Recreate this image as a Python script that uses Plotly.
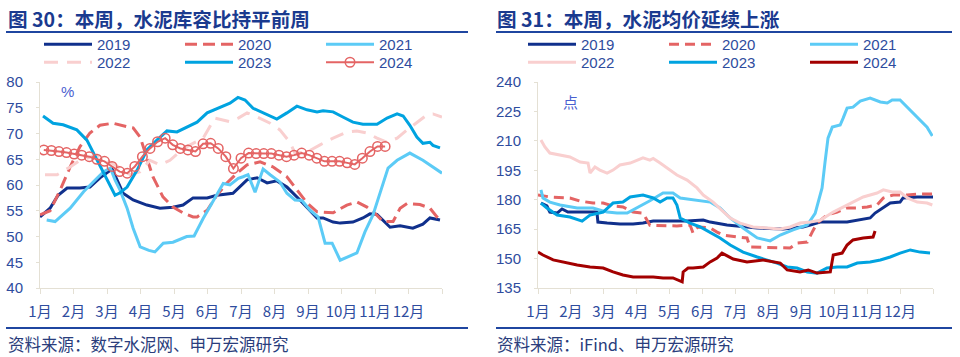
import plotly.graph_objects as go

W, H = 960, 357

# ---------------- data ----------------
MONTH_POS = list(range(13))
MONTH_LABELS = ["1月", "2月", "3月", "4月", "5月", "6月", "7月", "8月", "9月", "10月", "11月", "12月", ""]

# Left chart: cement inventory ratio (%), x = position within the year (months)
INV_2019_X = [0.00, 0.30, 0.54, 0.81, 1.19, 1.49, 1.79, 2.00, 2.15, 2.30, 2.48, 2.78, 3.19, 3.58, 3.97, 4.27, 4.57, 4.99,
              5.28, 5.76, 6.18, 6.48, 6.78, 7.07, 7.37, 7.76, 8.06, 8.27, 8.45, 8.75, 8.96, 9.34, 9.64, 9.85, 10.06,
              10.24, 10.45, 10.75, 11.13, 11.43, 11.64, 11.94]
INV_2019_Y = [53.8, 55.5, 58.0, 59.4, 59.4, 59.6, 61.4, 62.3, 63.1, 61.0, 58.4, 57.1, 56.1, 55.5, 55.7, 56.1, 57.5, 57.5,
              58.0, 58.4, 61.0, 61.4, 60.4, 60.8, 59.6, 57.1, 55.1, 53.6, 53.6, 52.8, 52.6, 52.8, 53.6, 54.4, 54.3,
              53.2, 51.8, 52.1, 51.6, 52.4, 53.6, 53.2]

INV_2020_X = [0.00, 0.30, 0.60, 0.90, 1.19, 1.49, 1.79, 2.18, 2.60, 2.78, 2.99, 3.19, 3.37, 3.67, 3.97, 4.27, 4.57, 4.69,
              4.99, 5.28, 5.58, 5.88, 6.18, 6.57, 6.96, 7.37, 7.76, 7.97, 8.27, 8.75, 9.16, 9.46, 9.76, 10.00, 10.24,
              10.54, 10.75, 10.96, 11.34, 11.64, 11.85, 12.00]
INV_2020_Y = [54.2, 55.0, 59.0, 63.5, 67.4, 70.1, 71.6, 72.0, 71.3, 71.1, 69.3, 65.4, 61.6, 57.7, 55.7, 54.6, 53.8, 53.8,
              55.1, 58.0, 60.4, 62.3, 63.9, 64.5, 63.5, 61.6, 58.4, 56.5, 54.8, 54.6, 56.1, 56.7, 55.7, 54.5, 52.9,
              52.9, 55.5, 56.4, 56.2, 55.5, 53.8, 52.9]

INV_2021_X = [0.20, 0.45, 0.90, 1.30, 1.70, 1.90, 2.10, 2.24, 2.39, 2.60, 2.78, 2.99, 3.25, 3.43, 3.68, 3.97, 4.38, 4.60,
              4.87, 5.17, 5.47, 5.67, 5.92, 6.06, 6.21, 6.42, 6.66, 6.87, 7.16, 7.37, 7.61, 7.82, 8.06, 8.30, 8.51,
              8.72, 8.96, 9.46, 9.70, 9.94, 10.24, 10.39, 10.66, 11.04, 11.43, 11.73, 12.00]
INV_2021_Y = [53.2, 52.9, 55.5, 58.7, 61.3, 62.6, 63.3, 61.0, 59.0, 55.5, 51.6, 48.0, 47.3, 47.0, 48.7, 48.9, 50.0, 50.1,
              53.5, 56.8, 60.3, 60.0, 61.3, 61.6, 62.0, 58.6, 63.1, 62.0, 60.6, 58.4, 57.1, 57.0, 55.1, 53.8, 48.7,
              48.7, 45.4, 46.8, 50.9, 54.2, 60.0, 63.3, 64.8, 66.2, 64.8, 63.5, 62.3]

INV_2022_X = [0.15, 0.51, 0.90, 1.19, 1.70, 2.00, 2.39, 2.69, 2.99, 3.28, 3.58, 3.88, 4.28, 4.87, 5.22, 5.67, 5.92, 6.18,
              6.48, 6.87, 7.16, 7.46, 7.61, 7.97, 8.36, 8.75, 9.16, 9.46, 9.76, 10.06, 10.36, 10.66, 10.96, 11.25,
              11.55, 11.73, 12.00]
INV_2022_Y = [62.0, 62.0, 63.5, 64.8, 65.8, 64.8, 63.3, 62.0, 62.6, 64.8, 63.9, 64.8, 67.1, 69.1, 73.0, 72.3, 73.0, 74.0,
              73.2, 72.0, 70.7, 68.3, 66.2, 66.4, 67.8, 69.1, 70.3, 70.5, 70.1, 69.1, 68.3, 69.1, 70.7, 72.2,
              73.6, 73.8, 73.2]

INV_2023_X = [0.09, 0.39, 0.69, 1.10, 1.40, 1.70, 2.00, 2.24, 2.39, 2.60, 2.90, 3.19, 3.49, 3.79, 4.09, 4.39, 4.69, 4.99,
              5.37, 5.67, 5.91, 6.12, 6.36, 6.78, 7.07, 7.37, 7.67, 7.97, 8.27, 8.45, 8.75, 9.04, 9.34, 9.64, 10.06,
              10.36, 10.66, 10.84, 11.04, 11.25, 11.43, 11.64, 11.73, 11.94]
INV_2023_Y = [73.4, 72.0, 71.7, 70.7, 68.7, 64.9, 61.0, 58.0, 58.5, 59.6, 62.9, 66.8, 68.7, 70.5, 70.3, 71.3, 72.2, 74.0,
              75.1, 75.9, 77.0, 76.5, 74.9, 73.6, 72.8, 74.0, 75.3, 74.6, 74.2, 74.4, 74.2, 73.2, 72.2, 71.8, 71.8,
              73.0, 73.8, 73.4, 71.6, 69.3, 68.1, 68.3, 67.7, 67.2]

INV_2024_WEEK = list(range(1, 47))
INV_2024_Y = [66.8, 66.7, 66.5, 66.3, 66.0, 65.8, 65.5, 65.0, 64.6, 63.6, 62.6, 62.3, 63.6, 65.5, 67.1, 68.4, 69.1, 67.8,
              67.1, 66.8, 66.5, 68.0, 68.1, 67.1, 65.5, 63.2, 65.2, 66.2, 66.1, 66.1, 66.1, 65.8, 65.5, 65.8, 66.2,
              65.8, 65.2, 64.6, 64.6, 64.6, 64.3, 64.0, 65.2, 66.5, 67.5, 67.5]

# Right chart: cement price index (points)
PRC_2019_X = [0.09, 0.27, 0.36, 0.58, 0.73, 0.91, 1.79, 1.82, 2.10, 2.49, 2.89, 3.19, 3.50, 4.53, 5.02, 5.23, 5.74,
              6.23, 6.66, 7.45, 8.05, 8.27, 8.57, 9.39, 9.70, 10.09, 10.24, 10.49, 10.70, 11.00, 11.09, 11.52, 12.00]
PRC_2019_Y = [178.3, 176.8, 173.7, 173.2, 175.3, 173.7, 173.7, 168.6, 168.1, 167.6, 167.6, 168.1, 169.1, 169.1, 169.6,
              168.6, 167.1, 166.1, 165.6, 165.1, 166.1, 167.1, 168.6, 168.6, 169.6, 170.7, 173.2, 175.8, 178.3, 178.8,
              180.9, 181.4, 181.4]

PRC_2020_X = [0.00, 0.36, 0.97, 1.28, 1.67, 1.98, 2.28, 2.58, 2.89, 3.19, 3.40, 4.22, 4.62, 4.71, 4.86, 5.23, 5.44,
              5.62, 6.05, 6.35, 6.44, 7.26, 7.66, 7.87, 8.18, 8.33, 8.48, 8.78, 9.09, 9.39, 9.70, 10.00, 10.30, 10.49,
              10.79, 11.22, 11.52, 11.98]
PRC_2020_Y = [182.4, 181.4, 180.9, 179.3, 178.3, 178.3, 176.8, 176.3, 173.7, 173.2, 167.0, 166.6, 167.1, 163.0, 166.1,
              165.6, 163.5, 162.0, 161.0, 160.5, 155.9, 155.4, 155.4, 157.9, 158.4, 163.5, 168.1, 172.2, 173.7, 175.8,
              175.8, 176.3, 177.3, 180.9, 182.4, 182.4, 182.9, 182.9]

PRC_2021_X = [0.09, 0.15, 0.36, 0.67, 1.19, 1.67, 2.10, 2.40, 2.71, 3.01, 3.40, 3.80, 4.10, 4.32, 4.83, 5.23, 5.53,
              5.84, 6.23, 6.66, 7.05, 7.36, 7.75, 8.18, 8.42, 8.63, 8.72, 8.81, 8.94, 9.18, 9.27, 9.39, 9.57, 9.79,
              10.09, 10.40, 10.61, 10.76, 11.00, 11.22, 11.40, 11.61, 11.82, 11.98]
PRC_2021_Y = [185.0, 180.9, 178.8, 177.3, 175.8, 175.8, 173.7, 173.2, 173.2, 175.8, 179.5, 183.4, 183.4, 180.9, 179.8,
              178.8, 175.8, 170.7, 165.6, 160.5, 159.0, 162.0, 164.6, 167.1, 173.0, 186.0, 199.2, 211.4, 217.0, 218.1,
              221.6, 226.7, 227.2, 230.3, 231.8, 229.8, 229.3, 230.8, 230.8, 227.2, 224.2, 220.6, 217.0, 212.5]

PRC_2022_X = [0.09, 0.21, 0.36, 0.67, 0.97, 1.28, 1.52, 1.58, 1.73, 1.88, 2.10, 2.28, 2.49, 2.80, 3.01, 3.19, 3.40,
              3.50, 3.71, 3.92, 4.22, 4.53, 4.83, 5.02, 5.32, 5.53, 5.84, 6.14, 6.53, 6.96, 7.36, 7.66, 7.96, 8.27,
              8.57, 8.97, 9.27, 9.57, 9.88, 10.30, 10.49, 10.76, 11.00, 11.22, 11.52, 11.82, 11.98]
PRC_2022_Y = [210.4, 206.9, 203.8, 202.8, 201.8, 199.2, 198.7, 193.6, 196.7, 195.1, 193.6, 195.1, 197.7, 198.7, 200.2,
              201.3, 200.2, 201.0, 198.7, 196.2, 192.6, 190.0, 186.0, 182.4, 178.8, 175.5, 170.7, 168.1, 166.1, 165.6,
              165.1, 166.1, 168.1, 168.6, 169.5, 173.7, 176.3, 178.8, 181.4, 183.4, 185.0, 183.9, 183.9, 180.9, 178.8,
              178.3, 177.3]

PRC_2023_X = [0.09, 0.27, 0.58, 0.97, 1.34, 1.58, 1.98, 2.28, 2.58, 2.80, 3.19, 3.50, 3.71, 3.92, 4.10, 4.22, 4.32,
              4.62, 4.93, 5.23, 5.53, 5.84, 6.23, 6.66, 6.96, 7.26, 7.57, 7.87, 8.18, 8.48, 8.78, 9.09, 9.39, 9.70,
              10.09, 10.40, 10.70, 11.00, 11.31, 11.61, 11.91]
PRC_2023_Y = [178.3, 175.8, 172.2, 171.2, 169.1, 172.2, 173.7, 178.3, 178.8, 181.4, 182.4, 180.9, 178.8, 180.9, 180.9,
              177.3, 170.7, 168.1, 166.1, 163.5, 160.5, 156.9, 153.3, 150.8, 149.3, 147.7, 145.7, 145.2, 143.2, 142.6,
              145.2, 145.7, 145.7, 147.7, 148.3, 149.3, 150.8, 152.8, 154.4, 153.3, 152.8]

PRC_2024_X = [0.00, 0.15, 0.46, 0.88, 1.19, 1.58, 1.98, 2.28, 2.58, 2.89, 3.50, 3.80, 4.10, 4.38, 4.41, 4.56, 4.71,
              5.02, 5.23, 5.44, 5.59, 5.93, 6.35, 6.84, 7.36, 7.57, 7.96, 8.21, 8.48, 8.88, 8.97, 9.24, 9.39, 9.57,
              9.88, 10.18, 10.24]
PRC_2024_Y = [153.3, 151.8, 149.3, 147.7, 146.7, 145.7, 145.2, 143.2, 141.6, 140.6, 140.6, 140.1, 140.1, 138.1, 143.2,
              145.2, 145.2, 145.7, 148.3, 150.3, 152.8, 149.8, 148.3, 149.3, 147.7, 144.2, 143.2, 144.2, 142.6, 143.2,
              151.8, 152.8, 156.9, 159.5, 160.5, 161.0, 164.0]

# ---------------- styling ----------------
FONT = "Liberation Sans, Arial, Noto Sans CJK SC, sans-serif"
CJK = "Noto Sans CJK SC, Liberation Sans, sans-serif"
TXT = "#2E4C9E"
TITLE_C = "#1A3A8F"
AXIS_C = "#E4E0D4"
NAVY = "#10308C"
RED = "#E46464"
LBLUE = "#5CCBF6"
PINK = "#F9CFCF"
MBLUE = "#00A3E0"
DRED = "#A30000"


def px(x):
    return x / W


def py(y):
    return 1 - y / H


fig = go.Figure()

week_to_month = [(w - 0.5) * 12 / 53 for w in INV_2024_WEEK]

left_series = [
    ("2019", INV_2019_X, INV_2019_Y, dict(color=NAVY, width=3), "legend"),
    ("2020", INV_2020_X, INV_2020_Y, dict(color=RED, width=3, dash="12px,6px"), "legend"),
    ("2021", INV_2021_X, INV_2021_Y, dict(color=LBLUE, width=3), "legend"),
    ("2022", INV_2022_X, INV_2022_Y, dict(color=PINK, width=3, dash="14px,9px"), "legend2"),
    ("2023", INV_2023_X, INV_2023_Y, dict(color=MBLUE, width=3), "legend2"),
]
for name, xs, ys, line, lg in left_series:
    fig.add_trace(go.Scatter(x=xs, y=ys, name=name, mode="lines", line=line,
                             xaxis="x", yaxis="y", legend=lg, hoverinfo="skip"))
fig.add_trace(go.Scatter(x=week_to_month, y=INV_2024_Y, name="2024", mode="lines+markers",
                         line=dict(color=RED, width=2),
                         marker=dict(symbol="circle-open", size=9.5, color=RED, line=dict(width=1.5, color=RED)),
                         xaxis="x", yaxis="y", legend="legend2", hoverinfo="skip"))

right_series = [
    ("2019", PRC_2019_X, PRC_2019_Y, dict(color=NAVY, width=3), "legend3"),
    ("2020", PRC_2020_X, PRC_2020_Y, dict(color=RED, width=3, dash="10px,6px"), "legend3"),
    ("2021", PRC_2021_X, PRC_2021_Y, dict(color=LBLUE, width=3), "legend3"),
    ("2022", PRC_2022_X, PRC_2022_Y, dict(color=PINK, width=3), "legend4"),
    ("2023", PRC_2023_X, PRC_2023_Y, dict(color=MBLUE, width=3), "legend4"),
    ("2024", PRC_2024_X, PRC_2024_Y, dict(color=DRED, width=3), "legend4"),
]
for name, xs, ys, line, lg in right_series:
    fig.add_trace(go.Scatter(x=xs, y=ys, name=name, mode="lines", line=line,
                             xaxis="x2", yaxis="y2", legend=lg, hoverinfo="skip"))

xcommon = dict(range=[0, 12], tickmode="array", tickvals=MONTH_POS, ticktext=MONTH_LABELS, tickangle=0,
               showline=True, linecolor=AXIS_C, linewidth=1, ticks="outside", ticklen=5, tickcolor=AXIS_C,
               tickfont=dict(size=15, color=TXT, family=CJK), ticklabelstandoff=5,
               showgrid=False, zeroline=False, fixedrange=True, automargin=False)
ycommon = dict(showline=True, linecolor=AXIS_C, linewidth=1, ticks="outside", ticklen=3, tickcolor=AXIS_C,
               tickfont=dict(size=15, color=TXT, family=FONT), ticklabelstandoff=10,
               showgrid=False, zeroline=False, fixedrange=True, automargin=False)

legend_common = dict(orientation="h", bgcolor="rgba(0,0,0,0)", borderwidth=0,
                     font=dict(size=15, color=TXT, family=FONT), xanchor="left", yanchor="top",
                     entrywidth=78, entrywidthmode="pixels", itemwidth=48, tracegroupgap=0)

fig.update_layout(
    width=W, height=H, margin=dict(l=0, r=0, t=0, b=0, autoexpand=False),
    paper_bgcolor="white", plot_bgcolor="white", showlegend=True,
    xaxis=dict(domain=[px(40), px(442)], anchor="y", **xcommon),
    yaxis=dict(domain=[py(288), py(82)], anchor="x", range=[40, 80], tickmode="array",
               tickvals=[40, 45, 50, 55, 60, 65, 70, 75, 80], **ycommon),
    xaxis2=dict(domain=[px(538), px(933)], anchor="y2", **xcommon),
    yaxis2=dict(domain=[py(288), py(82)], anchor="x2", range=[135, 240], tickmode="array",
                tickvals=[135, 150, 165, 180, 195, 210, 225, 240], **ycommon),
    legend=dict(x=px(39), y=py(28), **legend_common),
    legend2=dict(x=px(39), y=py(46), **legend_common),
    legend3=dict(x=px(523), y=py(28), **legend_common),
    legend4=dict(x=px(523), y=py(46), **legend_common),
)

# titles, footers, unit labels
annos = [
    dict(text="<b>图 30：本周，水泥库容比持平前周</b>", x=px(6), y=py(18), font=dict(size=19.6, color=TITLE_C, family=CJK)),
    dict(text="<b>图 31：本周，水泥均价延续上涨</b>", x=px(495), y=py(18), font=dict(size=19.6, color=TITLE_C, family=CJK)),
    dict(text="资料来源：数字水泥网、申万宏源研究", x=px(6), y=py(344), font=dict(size=16.5, color="#2A3D7C", family=CJK)),
    dict(text="资料来源：iFind、申万宏源研究", x=px(495), y=py(344), font=dict(size=16.5, color="#2A3D7C", family=CJK)),
    dict(text="%", x=px(59), y=py(91), font=dict(size=15, color="#4A5FD0", family=FONT)),
    dict(text="点", x=px(561), y=py(101), font=dict(size=15, color="#4A5FD0", family=CJK)),
]
for a in annos:
    fig.add_annotation(xref="paper", yref="paper", xanchor="left", yanchor="middle", showarrow=False, **a)

for x0, x1 in [(6, 468), (496, 952)]:
    for yy in (32, 328):
        fig.add_shape(type="line", xref="paper", yref="paper", x0=px(x0), x1=px(x1), y0=py(yy), y1=py(yy),
                      line=dict(color="#1F46A0", width=2))

fig.write_html("out.html", config={"displayModeBar": False},
               post_script="document.body.style.margin='0';document.body.style.overflow='hidden';")
